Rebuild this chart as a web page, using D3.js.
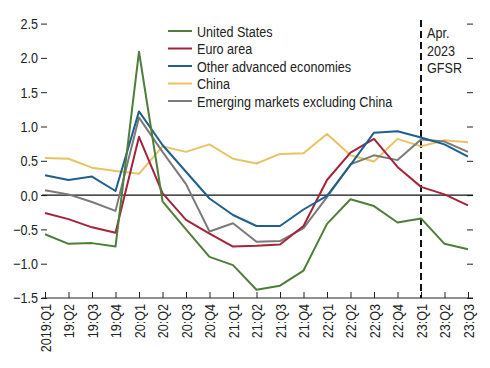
<!DOCTYPE html>
<html><head><meta charset="utf-8">
<script src="https://cdn.jsdelivr.net/npm/d3@7"></script>
<style>
body{margin:0;background:#fff;}
svg text{font-family:"Liberation Sans",Arial,sans-serif;fill:#222;font-size:15px;}
</style></head>
<body><svg id="c" width="490" height="368"></svg>
<script>
const quarters = ["2019:Q1","19:Q2","19:Q3","19:Q4","20:Q1","20:Q2","20:Q3","20:Q4","21:Q1","21:Q2","21:Q3","21:Q4","22:Q1","22:Q2","22:Q3","22:Q4","23:Q1","23:Q2","23:Q3"];
const unitedStates = [-0.57,-0.71,-0.70,-0.75,2.09,-0.09,-0.50,-0.90,-1.02,-1.38,-1.32,-1.10,-0.42,-0.06,-0.16,-0.40,-0.34,-0.71,-0.79];
const euroArea = [-0.26,-0.35,-0.47,-0.55,0.85,0.03,-0.36,-0.56,-0.75,-0.74,-0.72,-0.45,0.22,0.62,0.82,0.41,0.12,0.01,-0.15];
const otherAdvanced = [0.29,0.22,0.27,0.06,1.22,0.73,0.34,-0.05,-0.29,-0.45,-0.45,-0.21,-0.01,0.44,0.91,0.93,0.84,0.74,0.56];
const china = [0.54,0.53,0.40,0.35,0.31,0.71,0.63,0.74,0.53,0.46,0.60,0.61,0.89,0.58,0.49,0.82,0.71,0.80,0.77];
const emergingExChina = [0.07,0.01,-0.10,-0.23,1.13,0.63,0.16,-0.53,-0.41,-0.68,-0.67,-0.48,-0.03,0.45,0.58,0.51,0.81,0.78,0.63];
const seriesNames = ["United States","Euro area","Other advanced economies","China","Emerging markets excluding China"];
const seriesColors = ["#4f7d3b","#a3243b","#1f5f8e","#e9c363","#7a7a7a"];
const yTicks = [2.5,2.0,1.5,1.0,0.5,0.0,-0.5,-1.0,-1.5];
const markerQuarter = "23:Q1";
const markerLabel = ["Apr.","2023","GFSR"];

const series = [unitedStates, euroArea, otherAdvanced, china, emergingExChina];
const svg = d3.select("#c");
const x = d3.scalePoint().domain(quarters).range([45,468]);
const y = d3.scaleLinear().domain([-1.5,2.5]).range([298,23.6]);
const fmt = d => d < 0 ? "\u2212" + Math.abs(d).toFixed(1) : d.toFixed(1);
const SX = 0.84;

// left y axis ticks
const yl = svg.append("g").attr("transform","translate(47,0)")
  .call(d3.axisLeft(y).tickValues(yTicks).tickSize(6).tickFormat(""));
yl.select(".domain").remove();
yl.selectAll("line").attr("stroke","#222");
svg.append("g").selectAll("text").data(yTicks).join("text")
  .attr("transform", d => `translate(38,${y(d)}) scale(${SX},1)`)
  .attr("dy","0.36em").attr("text-anchor","end").text(fmt);
// right ticks
const yr = svg.append("g").attr("transform","translate(467,0)")
  .call(d3.axisRight(y).tickValues(yTicks).tickSize(6).tickFormat(""));
yr.select(".domain").remove();
yr.selectAll("line").attr("stroke","#222");

// x axis
const xa = svg.append("g").attr("transform","translate(0,298)")
  .call(d3.axisTop(x).tickSize(6).tickFormat(""));
xa.select(".domain").attr("d","M42,0H473").attr("stroke","#222");
xa.selectAll("line").attr("stroke","#222");
svg.append("g").selectAll("text").data(quarters).join("text")
  .attr("transform", d => `translate(${x(d)+5.5},304) rotate(-90) scale(${SX},1)`)
  .attr("text-anchor","end").text(d => d);

// zero line
svg.append("line").attr("x1",42).attr("x2",473).attr("y1",y(0)).attr("y2",y(0))
  .attr("stroke","#111").attr("stroke-width",1.2);

// marker dashed line
svg.append("line").attr("x1",x(markerQuarter)).attr("x2",x(markerQuarter))
  .attr("y1",20).attr("y2",298).attr("stroke","#111").attr("stroke-width",2)
  .attr("stroke-dasharray","7,4");
svg.append("g").selectAll("text").data(markerLabel).join("text")
  .attr("transform",(d,i)=>`translate(${x(markerQuarter)+6},${38+i*17.5}) scale(${SX},1)`)
  .text(d=>d);

// lines
const line = d3.line().x((d,i)=>x(quarters[i])).y(d=>y(d));
const order = [3,4,1,2,0];
order.forEach(k => {
  svg.append("path").datum(series[k]).attr("d",line).attr("fill","none")
    .attr("stroke",seriesColors[k]).attr("stroke-width",2).attr("stroke-linejoin","round");
});

// legend
const lg = svg.append("g");
seriesNames.forEach((n,i) => {
  const yy = 31 + i*17.5;
  lg.append("line").attr("x1",168).attr("x2",192).attr("y1",yy).attr("y2",yy)
    .attr("stroke",seriesColors[i]).attr("stroke-width",2);
  lg.append("text").attr("transform",`translate(197,${yy+5.5}) scale(${SX},1)`).text(n);
});
</script></body></html>
